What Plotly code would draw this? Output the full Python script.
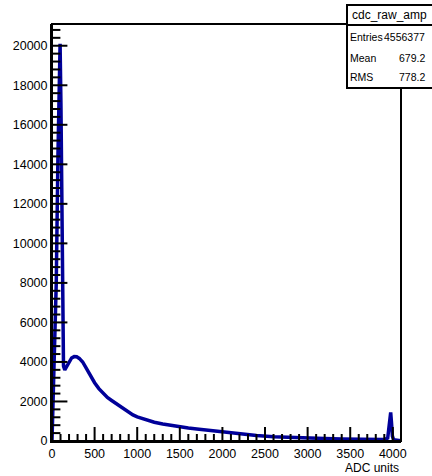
import plotly.graph_objects as go

# ---- data ----
adc = [0, 15, 30, 50, 70, 85, 95, 105, 115, 125, 135, 150, 170, 190, 210, 230, 260,
       290, 320, 360, 400, 450, 500, 550, 600, 650, 700, 750, 800, 850, 900, 950,
       1000, 1100, 1200, 1300, 1400, 1500, 1600, 1700, 1800, 1900, 2000, 2200, 2400,
       2600, 2800, 3000, 3200, 3400, 3600, 3800, 3900, 3940, 3955, 3965, 3975, 3985,
       3995, 4010, 4050, 4096]
counts = [0, 2000, 4200, 8000, 14500, 19500, 20100, 17000, 11000, 5500, 3800, 3600,
          3750, 3950, 4100, 4200, 4270, 4260, 4180, 4000, 3700, 3300, 2950, 2650,
          2400, 2200, 2050, 1900, 1750, 1600, 1450, 1320, 1220, 1070, 950, 860, 780,
          720, 660, 610, 560, 500, 450, 360, 280, 220, 180, 150, 125, 105, 90, 80, 75,
          150, 700, 1350, 1450, 900, 250, 60, 30, 15]

stat_labels = ["Entries", "Mean", "RMS"]
stat_values = ["4556377", "679.2", "778.2"]
hist_name = "cdc_raw_amp"
x_title = "ADC units"

X_RANGE = [0, 4096]
Y_RANGE = [0, 21100]
X_MAJOR, X_MINOR = 500, 100
Y_MAJOR, Y_MINOR = 2000, 400

W, H = 432, 476
L, R, T, B = 52, 31, 24, 35
PW, PH = W - L - R, H - T - B


def xp(px):
    return (px - L) / PW


def yp(py):
    return (H - B - py) / PH


FONT = "Liberation Sans, Arial, Helvetica, sans-serif"

fig = go.Figure()
fig.add_trace(go.Scatter(x=adc, y=counts, mode="lines",
                         line=dict(color="#000099", width=3.5),
                         showlegend=False, hoverinfo="skip"))

# ROOT-style inward tick marks (half of each marker is clipped by the frame)
x_major = list(range(X_RANGE[0], X_RANGE[1] + 1, X_MAJOR))
x_minor = [v for v in range(X_RANGE[0], X_RANGE[1] + 1, X_MINOR) if v % X_MAJOR]
y_major = list(range(Y_RANGE[0], Y_RANGE[1] + 1, Y_MAJOR))
y_minor = [v for v in range(Y_RANGE[0], Y_RANGE[1] + 1, Y_MINOR) if v % Y_MAJOR]


def tick_trace(xs, ys, symbol, size):
    return go.Scatter(x=xs, y=ys, mode="markers", cliponaxis=True,
                      marker=dict(symbol=symbol, size=size, color="black",
                                  line=dict(width=2, color="black")),
                      showlegend=False, hoverinfo="skip")


fig.add_trace(tick_trace(x_major, [Y_RANGE[0]] * len(x_major), "line-ns", 20))
fig.add_trace(tick_trace(x_minor, [Y_RANGE[0]] * len(x_minor), "line-ns", 10))
fig.add_trace(tick_trace([X_RANGE[0]] * len(y_major), y_major, "line-ew", 22))
fig.add_trace(tick_trace([X_RANGE[0]] * len(y_minor), y_minor, "line-ew", 12))

tickfont = dict(family=FONT, size=12.5, color="black")

fig.update_layout(
    xaxis=dict(range=X_RANGE, tick0=0, dtick=X_MAJOR,
               showline=True, linecolor="black", linewidth=2,
               ticks="", showgrid=False, zeroline=False, tickfont=tickfont),
    yaxis=dict(range=Y_RANGE, tick0=0, dtick=Y_MAJOR, tickformat="d",
               showline=True, linecolor="black", linewidth=2,
               ticks="", showgrid=False, zeroline=False, tickfont=tickfont),
)

shapes = [
    # plot frame
    dict(type="rect", xref="paper", yref="paper", x0=0, x1=1, y0=0, y1=1,
         line=dict(color="black", width=2), layer="above"),
    # statistics box
    dict(type="rect", xref="paper", yref="paper", x0=xp(347), x1=xp(438),
         y0=yp(88), y1=yp(5), fillcolor="white", line=dict(color="black", width=2),
         layer="above"),
    dict(type="line", xref="paper", yref="paper", x0=xp(347), x1=xp(438),
         y0=yp(25), y1=yp(25), line=dict(color="black", width=2), layer="above"),
]

annotations = [
    dict(text=hist_name, xref="paper", yref="paper", x=xp(389), y=yp(15),
         xanchor="center", yanchor="middle", showarrow=False,
         font=dict(family=FONT, size=12, color="black")),
    dict(text=x_title, xref="paper", yref="paper", x=xp(401), y=yp(468),
         xanchor="right", yanchor="middle", showarrow=False,
         font=dict(family=FONT, size=12, color="black")),
]
rows_y = [37, 58, 77]
for lab, val, ry in zip(stat_labels, stat_values, rows_y):
    annotations.append(dict(text=lab, xref="paper", yref="paper", x=xp(348), y=yp(ry),
                            xanchor="left", yanchor="middle", showarrow=False,
                            font=dict(family=FONT, size=10.5, color="black")))
    annotations.append(dict(text=val, xref="paper", yref="paper", x=xp(427), y=yp(ry),
                            xanchor="right", yanchor="middle", showarrow=False,
                            font=dict(family=FONT, size=10.5, color="black")))

fig.update_layout(width=W, height=H, margin=dict(l=L, r=R, t=T, b=B),
                  paper_bgcolor="white", plot_bgcolor="white",
                  shapes=shapes, annotations=annotations,
                  font=dict(family=FONT, color="black"))

fig.write_html("out.html")
